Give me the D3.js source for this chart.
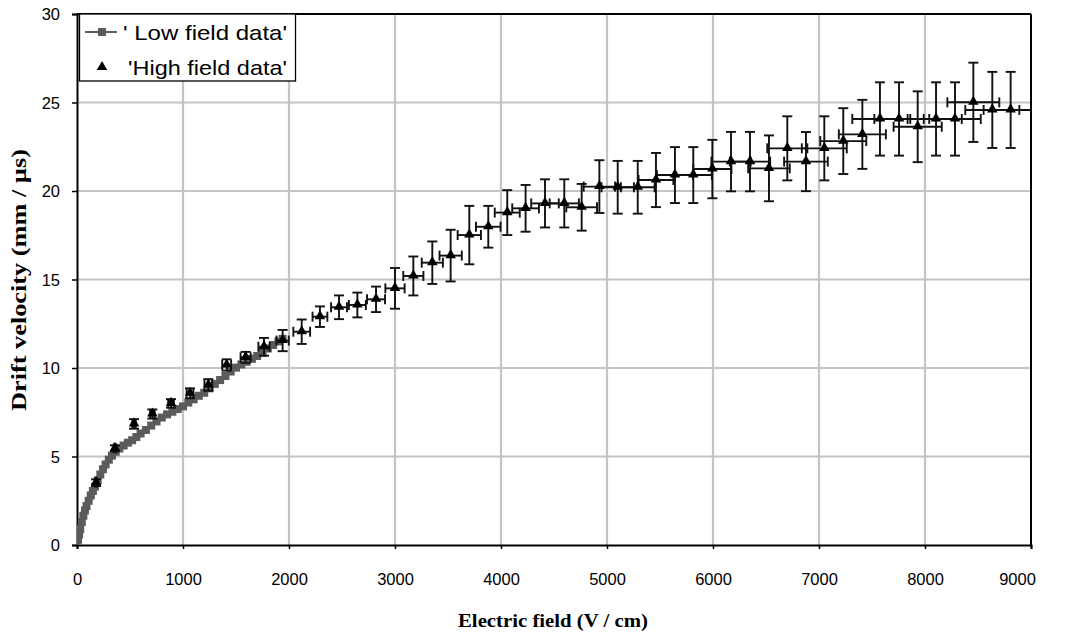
<!DOCTYPE html>
<html>
<head>
<meta charset="utf-8">
<script src="https://cdn.jsdelivr.net/npm/d3@7"></script>
<style>
  html, body { margin: 0; padding: 0; background: #fff; }
  svg { display: block; }
</style>
</head>
<body>
<svg id="chart" width="1066" height="633"></svg>
<script>
// Low field measurements: field (V/cm) and drift velocity (mm/µs)
const lowField = [0, 10, 20, 30, 45, 60, 75, 90, 110, 130, 150, 170, 195, 220, 245, 270, 300, 330, 365, 400,
  440, 480, 520, 560, 600, 650, 700, 750, 800, 850, 900, 950, 1000, 1050, 1100, 1150, 1200, 1250,
  1300, 1350, 1400, 1450, 1500, 1550, 1600, 1650, 1700, 1750, 1800, 1850, 1900, 1940];
const lowVelocity = [0, 0.3, 0.6, 0.9, 1.3, 1.65, 1.95, 2.2, 2.5, 2.8, 3.05, 3.3, 3.65, 3.98, 4.28, 4.55, 4.82, 5.05, 5.27, 5.45,
  5.62, 5.78, 5.92, 6.1, 6.3, 6.5, 6.75, 6.98, 7.2, 7.38, 7.53, 7.68, 7.83, 8.05, 8.23, 8.43, 8.6, 8.85,
  9.1, 9.32, 9.55, 9.8, 10.02, 10.2, 10.35, 10.52, 10.68, 10.85, 11.1, 11.3, 11.5, 11.65];

// High field measurements with their uncertainties
const highField = [180, 358, 538, 711, 887, 1066, 1239, 1412, 1591, 1764, 1940, 2120, 2292, 2472, 2645, 2821,
  3000, 3173, 3352, 3525, 3701, 3880, 4059, 4232, 4415, 4597, 4761, 4928, 5101, 5290, 5462, 5641, 5814,
  5994, 6170, 6349, 6528, 6701, 6877, 7050, 7229, 7409, 7575, 7755, 7931, 8104, 8283, 8456, 8635, 8808];
const highVelocity = [3.52, 5.46, 6.84, 7.40, 8.00, 8.57, 9.04, 10.17, 10.60, 11.20, 11.55, 12.05, 12.90, 13.43, 13.56, 13.88,
  14.50, 15.20, 15.95, 16.35, 17.51, 17.98, 18.78, 19.02, 19.30, 19.30, 19.08, 20.25, 20.21, 20.21, 20.62, 20.90, 20.90,
  21.24, 21.66, 21.66, 21.28, 22.41, 21.66, 22.41, 22.82, 23.20, 24.07, 24.07, 23.63, 24.07, 24.07, 25.01, 24.58, 24.58];
const velocityError = [0.19, 0.17, 0.27, 0.26, 0.24, 0.28, 0.33, 0.32, 0.31, 0.50, 0.60, 0.69, 0.58, 0.67, 0.70, 0.72,
  1.15, 1.10, 1.20, 1.46, 1.65, 1.18, 1.27, 1.32, 1.36, 1.36, 1.32, 1.49, 1.49, 1.49, 1.53, 1.58, 1.58,
  1.65, 1.68, 1.68, 1.86, 1.81, 1.67, 1.81, 1.86, 1.95, 2.07, 2.07, 2.00, 2.07, 2.07, 2.24, 2.15, 2.15];
const fieldError = [6, 11, 16, 21, 27, 32, 37, 42, 48, 53, 58, 79, 70, 75, 80, 85,
  91, 95, 100, 105, 110, 116, 118, 126, 130, 138, 145, 148, 153, 159, 164, 170, 175,
  180, 185, 190, 196, 189, 206, 212, 217, 222, 261, 233, 227, 243, 243, 245, 255, 255];

const xTicks = [0, 1000, 2000, 3000, 4000, 5000, 6000, 7000, 8000, 9000];
const yTicks = [0, 5, 10, 15, 20, 25, 30];
const legendLabels = ["' Low field data'", "'High field data'"];

const svg = d3.select("#chart");
const x = d3.scaleLinear().domain([0, 9000]).range([77, 1031]);
const y = d3.scaleLinear().domain([0, 30]).range([545, 14]);
const lowColor = "#5b5b5b";
const gridColor = "#c4c4c4";
const sans = "Liberation Sans, Arial, sans-serif";
const serif = "Liberation Serif, Times New Roman, serif";

svg.append("defs").append("clipPath").attr("id", "plotClip")
  .append("rect").attr("x", x(0)).attr("y", y(30)).attr("width", x(9000) - x(0)).attr("height", y(0) - y(30));

// grid
const grid = svg.append("g");
grid.selectAll("line.v").data(xTicks.filter(d => d > 0 && d < 9000)).join("line")
  .attr("x1", d => x(d)).attr("x2", d => x(d)).attr("y1", y(0)).attr("y2", y(30))
  .attr("stroke", gridColor).attr("stroke-width", 2.2);
grid.selectAll("line.h").data(yTicks.filter(d => d > 0 && d < 30)).join("line")
  .attr("x1", x(0)).attr("x2", x(9000)).attr("y1", d => y(d)).attr("y2", d => y(d))
  .attr("stroke", gridColor).attr("stroke-width", 2.2);

// axes
const xAxis = svg.append("g").attr("transform", `translate(0,${y(0)})`)
  .call(d3.axisBottom(x).tickValues(xTicks).tickFormat(d3.format("d")).tickSize(4).tickPadding(24));
const yAxis = svg.append("g").attr("transform", `translate(${x(0)},0)`)
  .call(d3.axisLeft(y).tickValues(yTicks).tickSize(5).tickPadding(12));
[xAxis, yAxis].forEach(a => {
  a.select(".domain").attr("stroke", "#000").attr("stroke-width", 2);
  a.selectAll(".tick line").attr("stroke", "#000").attr("stroke-width", 1.5);
  a.selectAll(".tick text").attr("font-family", sans)
    .attr("font-size", 16.5).attr("fill", "#000");
});
yAxis.selectAll(".tick text").attr("dy", "0.34em");
// the last field label sits just inside the right edge
xAxis.selectAll(".tick").filter(d => d === 9000).select("text").attr("dx", -14);

// frame on the top and right
svg.append("line").attr("x1", x(0)).attr("x2", x(9000)).attr("y1", y(30)).attr("y2", y(30))
  .attr("stroke", "#000").attr("stroke-width", 2);
svg.append("line").attr("x1", x(9000)).attr("x2", x(9000)).attr("y1", y(30)).attr("y2", y(0))
  .attr("stroke", "#000").attr("stroke-width", 2);

const plot = svg.append("g").attr("clip-path", "url(#plotClip)");

// low field series
const lowData = lowField.map((f, i) => ({ f, v: lowVelocity[i] }));
plot.append("path").datum(lowData)
  .attr("d", d3.line().x(d => x(d.f)).y(d => y(d.v)))
  .attr("fill", "none").attr("stroke", lowColor).attr("stroke-width", 2);
plot.selectAll("rect.low").data(lowData).join("rect")
  .attr("x", d => x(d.f) - 4).attr("y", d => y(d.v) - 4)
  .attr("width", 8).attr("height", 8).attr("fill", lowColor);

// high field series with error bars
const highData = highField.map((f, i) => ({ f, v: highVelocity[i], ev: velocityError[i], ef: fieldError[i] }));
const bars = plot.append("g").attr("stroke", "#111").attr("stroke-width", 1.9).attr("fill", "none");
const cap = 5;
highData.forEach(d => {
  const cx = x(d.f), cy = y(d.v);
  const top = y(d.v + d.ev), bot = y(d.v - d.ev);
  const left = x(d.f - d.ef), right = x(d.f + d.ef);
  bars.append("line").attr("x1", cx).attr("x2", cx).attr("y1", top).attr("y2", bot);
  bars.append("line").attr("x1", cx - cap).attr("x2", cx + cap).attr("y1", top).attr("y2", top);
  bars.append("line").attr("x1", cx - cap).attr("x2", cx + cap).attr("y1", bot).attr("y2", bot);
  bars.append("line").attr("x1", left).attr("x2", right).attr("y1", cy).attr("y2", cy);
  bars.append("line").attr("x1", left).attr("x2", left).attr("y1", cy - cap).attr("y2", cy + cap);
  bars.append("line").attr("x1", right).attr("x2", right).attr("y1", cy - cap).attr("y2", cy + cap);
});
const tri = d3.symbol().type(d3.symbolTriangle).size(48);
plot.selectAll("path.high").data(highData).join("path")
  .attr("transform", d => `translate(${x(d.f)},${y(d.v) - 0.5})`)
  .attr("d", tri).attr("fill", "#000");

// axis titles
svg.append("text").attr("x", 553).attr("y", 627).attr("text-anchor", "middle")
  .attr("font-family", serif).attr("font-weight", "bold").attr("font-size", 19)
  .attr("textLength", 190).attr("lengthAdjust", "spacingAndGlyphs")
  .text("Electric field (V / cm)");
svg.append("text").attr("transform", "translate(26,280) rotate(-90)").attr("text-anchor", "middle")
  .attr("font-family", serif).attr("font-weight", "bold").attr("font-size", 20)
  .attr("textLength", 262).attr("lengthAdjust", "spacingAndGlyphs")
  .text("Drift velocity (mm / µs)");

// legend
const lg = svg.append("g");
lg.append("rect").attr("x", 79.5).attr("y", 14).attr("width", 216).attr("height", 67)
  .attr("fill", "#fff").attr("stroke", "#000").attr("stroke-width", 1.3);
lg.append("line").attr("x1", 85).attr("x2", 117).attr("y1", 32).attr("y2", 32)
  .attr("stroke", lowColor).attr("stroke-width", 2);
lg.append("rect").attr("x", 98).attr("y", 28).attr("width", 8).attr("height", 8).attr("fill", lowColor);
lg.append("path").attr("transform", "translate(102,67)").attr("d", tri).attr("fill", "#000");
lg.selectAll("text").data(legendLabels).join("text")
  .attr("x", (d, i) => i === 0 ? 123 : 128).attr("y", (d, i) => i === 0 ? 40 : 75)
  .attr("textLength", (d, i) => i === 0 ? 164 : 159).attr("lengthAdjust", "spacingAndGlyphs")
  .attr("font-family", sans).attr("font-size", 21)
  .attr("fill", "#000").text(d => d);
</script>
</body>
</html>
